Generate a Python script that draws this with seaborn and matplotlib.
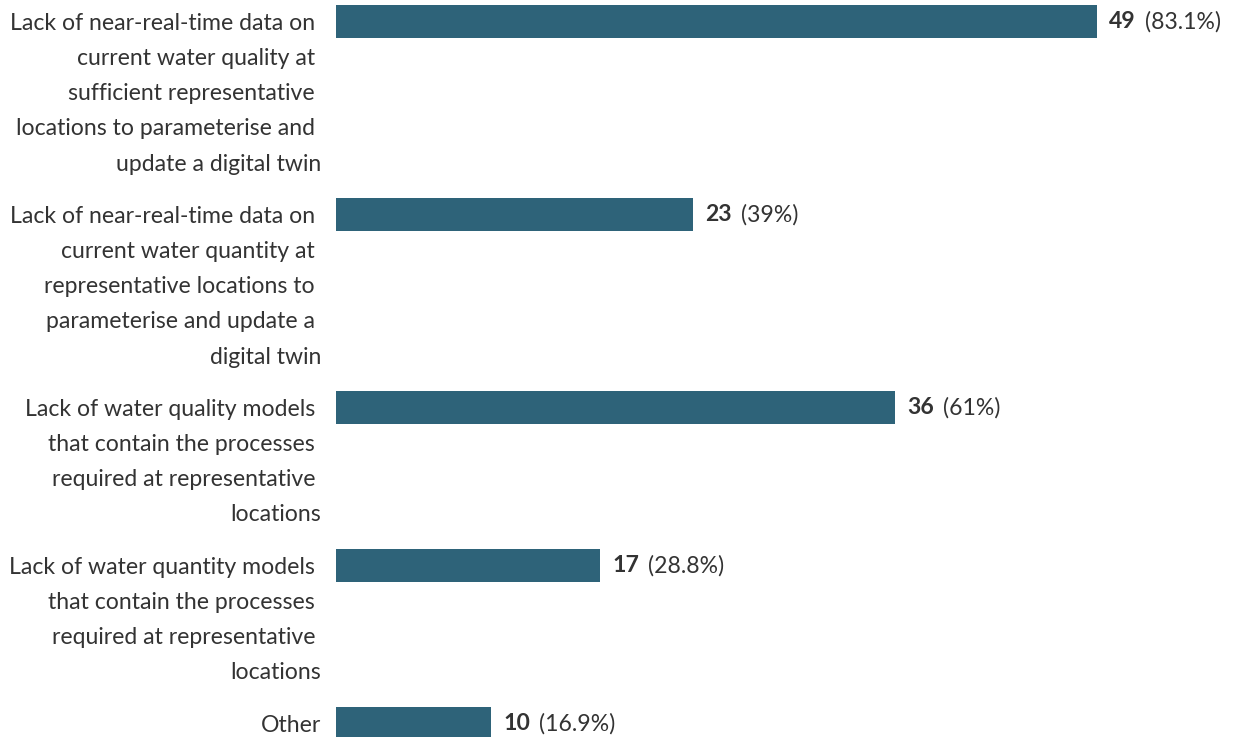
import numpy as np
import pandas as pd
import matplotlib
matplotlib.use("Agg")
import matplotlib.pyplot as plt
import seaborn as sns

categories = [
    "Lack of near-real-time data on \ncurrent water quality at \nsufficient representative \nlocations to parameterise and \nupdate a digital twin",
    "Lack of near-real-time data on \ncurrent water quantity at \nrepresentative locations to \nparameterise and update a \ndigital twin",
    "Lack of water quality models \nthat contain the processes \nrequired at representative \nlocations",
    "Lack of water quantity models \nthat contain the processes \nrequired at representative \nlocations",
    "Other",
]
counts = [49, 23, 36, 17, 10]
percents = ["83.1%", "39%", "61%", "28.8%", "16.9%"]

sns.set_theme(style="white")
plt.rcParams["font.family"] = ["Lato", "DejaVu Sans"]

W, H = 1236, 737
DPI = 100
fig = plt.figure(figsize=(W / DPI, H / DPI), dpi=DPI)
ax = fig.add_axes([336 / W, 0, 1 - 336 / W, 1])

# layout in pixel-like units: each block = n_lines * line_h + gap
line_h, gap, first_c = 35.0, 18.0, 21.5
n_lines = [c.count("\n") + 1 for c in categories]
pos = [first_c]
for n in n_lines[:-1]:
    pos.append(pos[-1] + n * line_h + gap)

df = pd.DataFrame({"cat": categories, "count": counts, "pos": pos})
min_step = np.min(np.diff(sorted(pos)))
bar_h = 33.0

color = "#2E6379"
sns.barplot(data=df, x="count", y="pos", orient="y", native_scale=True,
            color=color, saturation=1, width=bar_h / min_step, ax=ax,
            edgecolor="none")

ax.set_xlim(0, 900 / ((1097 - 336) / 49))
ax.set_ylim(H, 0)
ax.set_axis_off()

txt_color = "#333333"
fs = 16.6
fig.canvas.draw()
renderer = fig.canvas.get_renderer()
for cat, c, p, y in zip(categories, counts, percents, pos):
    if cat.count("\n") == 0:
        ax.annotate(cat, xy=(0, y), xycoords=ax.get_yaxis_transform(),
                    xytext=(-15, -2), textcoords="offset pixels",
                    ha="right", va="center", fontsize=fs, color=txt_color)
    else:
        ax.annotate(cat, xy=(0, y), xycoords=ax.get_yaxis_transform(),
                    xytext=(-15, 9), textcoords="offset pixels",
                    ha="right", va="top", fontsize=fs, color=txt_color,
                    linespacing=1.84)
    t1 = ax.annotate(str(c), xy=(c, y), xycoords="data",
                     xytext=(12, 0), textcoords="offset pixels",
                     ha="left", va="center", fontsize=fs, color=txt_color,
                     fontweight="bold")
    bb = t1.get_window_extent(renderer=renderer)
    ax.annotate(f"({p})", xy=(c, y), xycoords="data",
                xytext=(12 + bb.width + 9, 0), textcoords="offset pixels",
                ha="left", va="center", fontsize=fs, color=txt_color)

fig.savefig("out.png", dpi=DPI)
